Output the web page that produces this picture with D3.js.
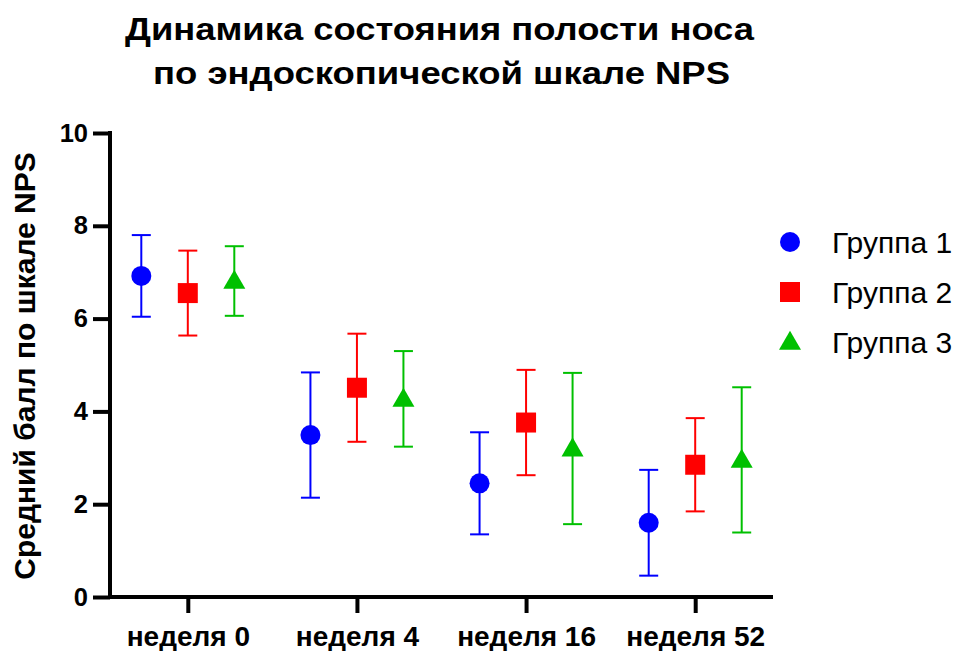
<!DOCTYPE html>
<html>
<head>
<meta charset="utf-8">
<script src="https://cdn.jsdelivr.net/npm/d3@7"></script>
<style>
  html, body { margin: 0; padding: 0; background: #fff; }
  svg { display: block; font-family: "Liberation Sans", Arial, sans-serif; }
</style>
</head>
<body>
<svg id="chart" width="960" height="651"></svg>
<script>
const titleLines = ["Динамика состояния полости носа", "по эндоскопической шкале NPS"];
const yLabel = "Средний балл по шкале NPS";
const categories = ["неделя 0", "неделя 4", "неделя 16", "неделя 52"];
const groups = ["Группа 1", "Группа 2", "Группа 3"];
const group1Mean = [6.92, 3.49, 2.45, 1.60];
const group1SD   = [0.88, 1.35, 1.10, 1.14];
const group2Mean = [6.55, 4.51, 3.76, 2.85];
const group2SD   = [0.915, 1.165, 1.135, 1.005];
const group3Mean = [6.81, 4.27, 3.20, 2.955];
const group3SD   = [0.75, 1.03, 1.63, 1.565];
const yTicks = [0, 2, 4, 6, 8, 10];
const colors = ["#0000FF", "#FF0000", "#00C000"];
const symbols = [d3.symbolCircle, d3.symbolSquare, d3.symbolTriangle];

const means = [group1Mean, group2Mean, group3Mean];
const sds = [group1SD, group2SD, group3SD];

const svg = d3.select("#chart");
const mLeft = 110, mRight = 773, mTop = 133, mBottom = 597;

const y = d3.scaleLinear().domain([0, 10]).range([mBottom, mTop]);
const x = d3.scalePoint().domain(categories).range([mLeft, mRight]).padding(0.46);
const xg = d3.scalePoint().domain(groups).range([-46.5, 46.5]);

// Title
const titleStyle = [{ y: 40, cx: 439.5, w: 629 }, { y: 83.5, cx: 441.5, w: 577 }];
svg.append("g").selectAll("text").data(titleLines).join("text")
  .attr("x", (d, i) => titleStyle[i].cx).attr("y", (d, i) => titleStyle[i].y)
  .attr("text-anchor", "middle")
  .attr("font-weight", "bold").attr("font-size", 32)
  .attr("textLength", (d, i) => titleStyle[i].w).attr("lengthAdjust", "spacingAndGlyphs")
  .attr("fill", "#000")
  .text(d => d);

// Y axis label
svg.append("text")
  .attr("transform", `translate(35, ${(mTop + mBottom) / 2 + 1}) rotate(-90)`)
  .attr("text-anchor", "middle")
  .attr("font-weight", "bold").attr("font-size", 30)
  .text(yLabel);

// Y axis
const yAxis = svg.append("g").attr("transform", `translate(${mLeft},0)`)
  .call(d3.axisLeft(y).tickValues(yTicks).tickSize(17).tickPadding(5).tickFormat(d3.format("d")));
yAxis.select(".domain").attr("stroke", "#000").attr("stroke-width", 4)
  .attr("d", `M0,${mBottom + 2}V${mTop - 2}`);
yAxis.selectAll(".tick line").attr("stroke", "#000").attr("stroke-width", 4);
yAxis.selectAll(".tick text").attr("font-size", 25.5).attr("font-weight", "bold")
  .attr("font-family", "'Liberation Sans', Arial, sans-serif").attr("fill", "#000");

// X axis
const xAxis = svg.append("g").attr("transform", `translate(0,${mBottom})`)
  .call(d3.axisBottom(x).tickSize(16).tickPadding(12));
xAxis.select(".domain").attr("stroke", "#000").attr("stroke-width", 4)
  .attr("d", `M${mLeft - 2},0H${mRight}`);
xAxis.selectAll(".tick line").attr("stroke", "#000").attr("stroke-width", 4);
xAxis.selectAll(".tick text").attr("font-size", 28).attr("font-weight", "bold")
  .attr("font-family", "'Liberation Sans', Arial, sans-serif").attr("fill", "#000")
  .attr("dy", null).attr("y", 48.5);

// Data
const capW = 19;
const sizes = [314, 400, 210];
groups.forEach((g, gi) => {
  const data = categories.map((c, ci) => ({ c, m: means[gi][ci], s: sds[gi][ci] }));
  const layer = svg.append("g");
  const cx = d => x(d.c) + xg(g);
  const bars = layer.selectAll("g.eb").data(data).join("g").attr("class", "eb")
    .attr("stroke", colors[gi]).attr("stroke-width", 2).attr("fill", "none");
  bars.append("line").attr("x1", cx).attr("x2", cx)
    .attr("y1", d => y(d.m + d.s)).attr("y2", d => y(d.m - d.s));
  bars.append("line").attr("x1", d => cx(d) - capW / 2).attr("x2", d => cx(d) + capW / 2)
    .attr("y1", d => y(d.m + d.s)).attr("y2", d => y(d.m + d.s));
  bars.append("line").attr("x1", d => cx(d) - capW / 2).attr("x2", d => cx(d) + capW / 2)
    .attr("y1", d => y(d.m - d.s)).attr("y2", d => y(d.m - d.s));
  layer.selectAll("path.pt").data(data).join("path").attr("class", "pt")
    .attr("transform", d => `translate(${cx(d)},${y(d.m) + (gi === 2 ? 1.5 : 0)})`)
    .attr("d", d3.symbol().type(symbols[gi]).size(sizes[gi]))
    .attr("fill", colors[gi]);
});

// Legend
const legend = svg.append("g");
groups.forEach((g, gi) => {
  const ly = 242 + gi * 50;
  legend.append("path")
    .attr("transform", `translate(790,${ly + (gi === 2 ? 1.5 : 0)})`)
    .attr("d", d3.symbol().type(symbols[gi]).size(sizes[gi]))
    .attr("fill", colors[gi]);
  legend.append("text").attr("x", 832).attr("y", ly + 11)
    .attr("font-size", 30).attr("fill", "#000").text(g);
});
</script>
</body>
</html>
